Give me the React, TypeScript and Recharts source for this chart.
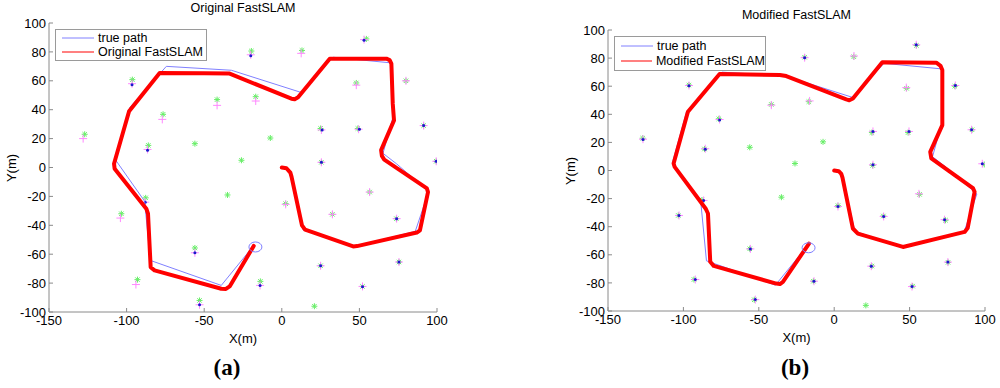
import React from 'react';
import { ScatterChart, Scatter, XAxis, YAxis } from 'recharts';

// true vehicle path (same run in both panels)
const truePath = [
  [0, 0], [3, -0.5], [5, -3], [13.7, -43.2], [46, -55], [86, -44.2], [94.6, -16.7],
  [74, 2.5], [65.2, 9.8], [71.7, 35], [71.3, 72.3], [33, 76.3], [12.6, 51.9],
  [-32.5, 67.3], [-74.4, 70], [-98, 41.5], [-107.3, 5.5], [-88.4, -23.3],
  [-84.7, -64.3], [-39, -81.6], [-18, -53.9],
];

// estimated path, original FastSLAM
const origPath = [
  [0, 0], [3, -0.5], [5.5, -3.5], [6.3, -6.5], [13, -40], [15, -43], [46, -54.6], [48.5, -54.4],
  [87, -45], [89, -43.5], [94.2, -17], [93.5, -14.5], [66, 5.5], [64.5, 8], [64, 12],
  [72.3, 32.6], [71.5, 44], [70.6, 71.9], [69.5, 74.3], [67.4, 75.3], [30.9, 75.3],
  [10.5, 48.6], [8.3, 47.3], [6.2, 47.6], [-33.6, 65], [-50, 65.3], [-78.7, 65.4],
  [-98.4, 38.9], [-108.1, 2.6], [-107.7, -0.8], [-87.3, -28.5], [-86.2, -32],
  [-84.5, -69], [-82, -71.2], [-39, -83.9], [-36, -84], [-33.6, -82.3], [-18.1, -54.3],
];

// estimated path, modified FastSLAM
const modPath = [
  [0, 0], [3, -0.5], [4.7, -2.4], [5.5, -5], [12.4, -41.3], [15.7, -44.9], [45.6, -54.4],
  [86.5, -43.7], [88.5, -41], [93.1, -15.2], [92, -12.5], [64.4, 8.6], [63.7, 13.3],
  [71.7, 32.3], [71.7, 71.5], [70.5, 74.5], [67.7, 76.7], [31.9, 77], [12.4, 51.3],
  [10, 50], [8, 50.6], [-31.8, 67.2], [-36, 68], [-76, 68.7], [-97, 41.8], [-106.5, 5],
  [-105.8, 2.6], [-85.3, -27], [-83.7, -30.6], [-82.2, -65], [-79.9, -67.9],
  [-38.4, -80.5], [-36, -80.8], [-34, -79.3], [-16.7, -52],
];

const vehicle = [[-17, -55]];

const trueLandmarks = [
  [-127, 23], [-96.3, 60.8], [-19.6, 80.6], [13, 81], [54.5, 89], [48, 58.5], [80, 60],
  [-41.7, 47], [-16.8, 49], [-76.5, 36.8], [-86, 15.3], [-56, 16.5], [-7.4, 20.4],
  [-26, 5], [25, 27], [49, 27], [91.4, 29], [25.5, 3.6], [99.5, 4.3], [-35, -19],
  [-87.7, -21], [-103.4, -32], [2.5, -25], [32.6, -32.4], [56.6, -17], [73.8, -35.4],
  [-56, -55.7], [25, -68], [75.5, -65.4], [-93, -77.6], [-13.8, -78.8], [52, -82.3],
  [-53, -92], [21, -96],
];

const origLandmarks = [
  [-128, 20], [-96.5, 58], [-20, 78], [12.5, 79], [53, 88.5], [48, 57], [80, 60],
  [-41.7, 43], [-16.8, 46], [-77, 33.3], [-86.5, 12.5], [25.5, 26], [49.5, 26.5],
  [91.4, 29], [25.5, 3.6], [99.5, 4.3], [-88, -24], [-104, -35], [2.5, -25.5],
  [32.6, -32.4], [56.6, -17], [74, -35.4], [-56, -59], [25, -68], [75.5, -65.4],
  [-94, -81], [-14, -81.6], [52, -82.3], [-53, -95],
];

const origDots = [
  [-96.5, 57.3], [-20, 77.4], [53, 88], [-86.5, 12], [26, 26], [50, 26.5], [91.4, 29],
  [25.5, 3.6], [99.5, 4.3], [-88, -24], [74, -35.4], [-56, -59], [25, -68], [75.5, -65.4],
  [-14, -81.6], [52, -82.5], [-53, -95],
];

const modLandmarks = [
  [-126.8, 22.3], [-96.3, 60.5], [-19.6, 80.3], [13.1, 81.5], [54.4, 89.5], [47.8, 59],
  [80.3, 60.5], [-41.7, 46.5], [-16.3, 49.5], [-76, 36.3], [-85.5, 15.5], [25.7, 27.8],
  [49.6, 27.8], [91.1, 29], [25.7, 4.1], [98.2, 4.8], [-86.6, -21.3], [-102.9, -32],
  [2.5, -25.6], [32.8, -32.7], [56.2, -16.6], [73.2, -35], [-55.6, -55.8], [24.6, -68.1],
  [75.4, -65.2], [-92.1, -77.6], [-13.4, -78.8], [51.6, -82.6], [-52.3, -91.9],
];

const modDots = [
  [-126.8, 22], [-96.3, 60.3], [-76, 36], [-85.5, 15.2], [-19.6, 80.3], [54.4, 89.5],
  [80.3, 60.5], [25.7, 27.8], [49.6, 27.8], [91.1, 29], [25.7, 4.1], [98.2, 4.8],
  [-86.6, -21.3], [-102.9, -32], [2.5, -25.6], [32.8, -32.7], [73.2, -35], [-55.6, -55.8],
  [24.6, -68.1], [75.4, -65.2], [-92.1, -77.6], [-13.4, -78.8], [51.6, -82.6], [-52.3, -91.9],
];

const xTicks = [-150, -100, -50, 0, 50, 100];
const yTicks = [-100, -80, -60, -40, -20, 0, 20, 40, 60, 80, 100];

const toPts = (a: number[][]) => a.map(([x, y]) => ({ x, y }));

const FONT = 'Arial, "Liberation Sans", sans-serif';
const AXIS = '#8a8a8a';

const Nothing = () => <g />;

const Star = (p: any) => {
  const { cx, cy } = p;
  const s = 3;
  const d = 2.2;
  return (
    <g stroke="#66ee66" strokeWidth={1}>
      <line x1={cx - s} y1={cy} x2={cx + s} y2={cy} />
      <line x1={cx} y1={cy - s} x2={cx} y2={cy + s} />
      <line x1={cx - d} y1={cy - d} x2={cx + d} y2={cy + d} />
      <line x1={cx - d} y1={cy + d} x2={cx + d} y2={cy - d} />
    </g>
  );
};

const Plus = (p: any) => {
  const { cx, cy } = p;
  const s = 4;
  return (
    <g stroke="#ff88ff" strokeWidth={1}>
      <line x1={cx - s} y1={cy} x2={cx + s} y2={cy} />
      <line x1={cx} y1={cy - s} x2={cx} y2={cy + s} />
    </g>
  );
};

const Dot = (p: any) => <circle cx={p.cx} cy={p.cy} r={1.5} fill="#1a1acc" />;

const Vehicle = (p: any) => (
  <ellipse cx={p.cx} cy={p.cy} rx={6.5} ry={5} fill="none" stroke="#8080ff" strokeWidth={1} />
);

const LegendBox: React.FC<{ label: string; top: number; h: number; w: number }> = ({ label, top, h, w }) => (
  <div
    style={{
      position: 'absolute',
      left: 55,
      top,
      border: '1px solid #9a9a9a',
      background: '#fff',
      width: w,
      height: h,
      boxSizing: 'border-box',
      fontFamily: FONT,
      fontSize: 12.5,
      color: '#000',
      padding: '1px 0 0 6px',
      whiteSpace: 'nowrap',
    }}
  >
    <div style={{ display: 'flex', alignItems: 'center', height: (h - 4) / 2 }}>
      <svg width={32} height={6} style={{ marginRight: 4 }}>
        <line x1={0} y1={3} x2={32} y2={3} stroke="#8080ff" strokeWidth={1} />
      </svg>
      true path
    </div>
    <div style={{ display: 'flex', alignItems: 'center', height: (h - 4) / 2 }}>
      <svg width={32} height={6} style={{ marginRight: 4 }}>
        <line x1={0} y1={3} x2={32} y2={3} stroke="#ff8080" strokeWidth={2} />
      </svg>
      {label}
    </div>
  </div>
);

interface PanelProps {
  left: number;
  width: number;
  height: number;
  top: number;
  right: number;
  title: string;
  titleTop: number;
  label: string;
  legendTop: number;
  legendH: number;
  letter: string;
  letterX: number;
  path: number[][];
  est: number[][];
  dots: number[][];
}

const Panel: React.FC<PanelProps> = (pp) => {
  const plotL = 49;
  const plotR = pp.width - pp.right;
  const cx = (plotL + plotR) / 2;
  return (
    <div style={{ position: 'absolute', left: pp.left, top: 0, width: pp.width, height: 388 }}>
      <div style={{ position: 'absolute', left: cx - 100, width: 200, top: pp.titleTop, textAlign: 'center', fontFamily: FONT, fontSize: 12.5, color: '#000' }}>
        {pp.title}
      </div>
      <ScatterChart width={pp.width} height={pp.height} margin={{ top: pp.top, right: pp.right, bottom: 0, left: 0 }}>
        <XAxis
          type="number" dataKey="x" domain={[-150, 100]} ticks={xTicks} allowDataOverflow
          height={18} tickSize={-4} tickMargin={8} interval={0}
          axisLine={{ stroke: AXIS }} tickLine={{ stroke: AXIS }}
          tick={{ fill: '#000', fontSize: 13, fontFamily: FONT }}
        />
        <XAxis
          xAxisId="top" orientation="top" type="number" dataKey="x" domain={[-150, 100]} ticks={xTicks}
          height={0} tickSize={-4} tickFormatter={() => ''}
          axisLine={{ stroke: AXIS }} tickLine={{ stroke: AXIS }}
        />
        <YAxis
          type="number" dataKey="y" domain={[-100, 100]} ticks={yTicks} allowDataOverflow
          width={49} tickSize={-4} tickMargin={7} interval={0}
          axisLine={{ stroke: AXIS }} tickLine={{ stroke: AXIS }}
          tick={{ fill: '#000', fontSize: 13, fontFamily: FONT }}
        />
        <YAxis
          yAxisId="right" orientation="right" type="number" dataKey="y" domain={[-100, 100]} ticks={yTicks}
          width={0} tickSize={-4} tickFormatter={() => ''}
          axisLine={{ stroke: AXIS }} tickLine={{ stroke: AXIS }}
        />
        <Scatter data={toPts(trueLandmarks)} shape={Star} isAnimationActive={false} />
        <Scatter data={toPts(pp.est)} shape={Plus} isAnimationActive={false} />
        <Scatter data={toPts(pp.dots)} shape={Dot} isAnimationActive={false} />
        <Scatter
          data={toPts(truePath)} shape={Nothing} isAnimationActive={false}
          line={{ stroke: '#8080ff', strokeWidth: 1 }}
        />
        <Scatter
          data={toPts(pp.path)} shape={Nothing} isAnimationActive={false}
          line={{ stroke: '#ff0000', strokeWidth: 4, strokeLinejoin: 'round', strokeLinecap: 'round' }}
        />
        <Scatter data={toPts(vehicle)} shape={Vehicle} isAnimationActive={false} />
      </ScatterChart>
      <LegendBox label={pp.label} top={pp.legendTop} h={pp.legendH} w={152} />
      <div style={{ position: 'absolute', left: 2, top: (pp.top + pp.height - 18) / 2 - 8, width: 20, height: 16 }}>
        <div style={{ position: 'absolute', left: -10, top: 0, width: 40, textAlign: 'center', transform: 'rotate(-90deg)', fontFamily: FONT, fontSize: 13, color: '#000', lineHeight: '16px' }}>
          Y(m)
        </div>
      </div>
      <div style={{ position: 'absolute', left: cx - 40, width: 80, top: pp.height + 1, textAlign: 'center', fontFamily: FONT, fontSize: 13, color: '#000' }}>
        X(m)
      </div>
      <div style={{ position: 'absolute', left: pp.letterX - 60, width: 120, top: 355, textAlign: 'center', fontFamily: '"Liberation Serif", "Times New Roman", serif', fontWeight: 'bold', fontSize: 23, color: '#000' }}>
        {pp.letter}
      </div>
    </div>
  );
};

const App: React.FC = () => (
  <div style={{ position: 'absolute', left: 0, top: 0, width: 1000, height: 388, background: '#fff', overflow: 'hidden' }}>
    <Panel
      left={0} width={450} height={330} top={23} right={13}
      title="Original FastSLAM" titleTop={1} label="Original FastSLAM"
      legendTop={29} legendH={32} letter="(a)" letterX={227}
      path={origPath} est={origLandmarks} dots={origDots}
    />
    <Panel
      left={559} width={440} height={329} top={30} right={14}
      title="Modified FastSLAM" titleTop={8} label="Modified FastSLAM"
      legendTop={36} legendH={35} letter="(b)" letterX={236}
      path={modPath} est={modLandmarks} dots={modDots}
    />
  </div>
);

export default App;
